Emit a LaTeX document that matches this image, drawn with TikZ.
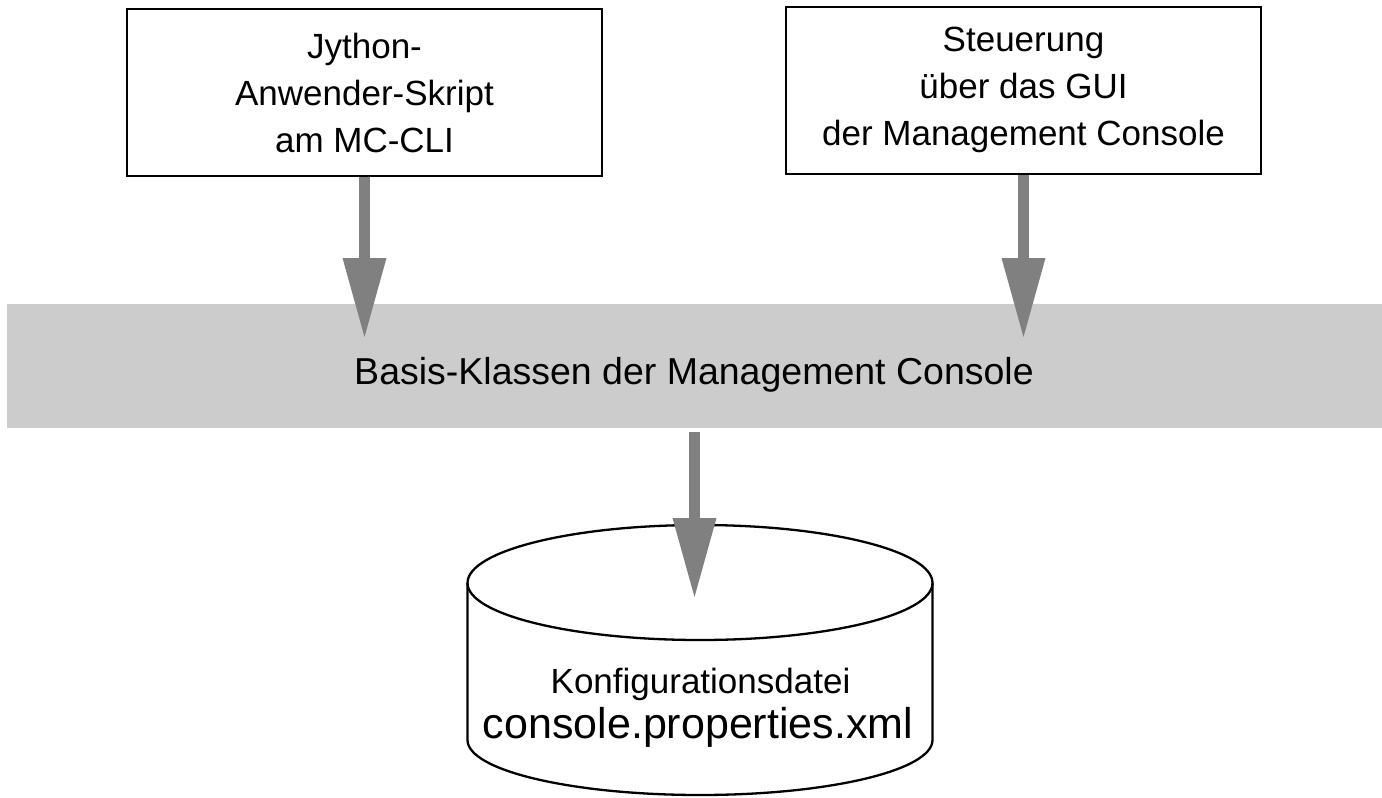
\documentclass[tikz,border=0pt]{standalone}
\usepackage{fontspec}
\setmainfont{Liberation Sans}
\usetikzlibrary{arrows.meta}
\definecolor{arrowgray}{HTML}{808080}
\definecolor{bandgray}{HTML}{CCCCCC}
\tikzset{
  srcbox/.style={draw=black, line width=1.7pt, fill=white, inner sep=0pt,
    minimum width=475pt, minimum height=167pt, align=center,
    font=\fontsize{35}{47}\selectfont},
  bigarrow/.style={draw=arrowgray, line width=10.5pt,
    -{Triangle[width=44pt,length=79pt,line width=0pt]}},
  cylline/.style={draw=black, line width=2.3pt}
}
\begin{document}
\begin{tikzpicture}[x=1pt,y=1pt]
\useasboundingbox (0,0) rectangle (1382,-798);
% band
\node[fill=bandgray, inner sep=0pt, minimum width=1375pt, minimum height=124pt] (band) at (694.5,-366) {};
\node[anchor=base, inner sep=0pt, font=\fontsize{37.5}{45}\selectfont] (bandlabel) at (694,-384) {Basis-Klassen der Management Console};
% boxes
\node[srcbox] (jy) at (364.5,-92.6) {Jython-\\Anwender-Skript\\am MC-CLI};
\node[srcbox] (gui) at (1023.5,-90.4) {Steuerung\\über das GUI\\der Management Console};
% cylinder
\draw[cylline, fill=white] (467.5,-583) -- (467.5,-740)
  arc[start angle=180, end angle=360, x radius=232.5, y radius=55]
  -- (932.5,-583)
  arc[start angle=0, end angle=180, x radius=232.5, y radius=58] -- cycle;
\draw[cylline] (467.5,-583) arc[start angle=180, end angle=360, x radius=232.5, y radius=57];
\node[anchor=base, inner sep=0pt, font=\fontsize{35}{42}\selectfont] (cyl1) at (700.5,-693) {Konfigurationsdatei};
\node[anchor=base, inner sep=0pt, font=\fontsize{43}{50}\selectfont] (cyl2) at (698,-738) {console.properties.xml};
% arrows
\coordinate (t1) at (364.5,-337);
\coordinate (t2) at (1023.5,-337);
\coordinate (t3) at (694.5,-597);
\draw[bigarrow] (jy.south) -- (t1);
\draw[bigarrow] (gui.south) -- (t2);
\draw[bigarrow] ([yshift=-4pt]band.south) -- (t3);
\end{tikzpicture}
\end{document}
